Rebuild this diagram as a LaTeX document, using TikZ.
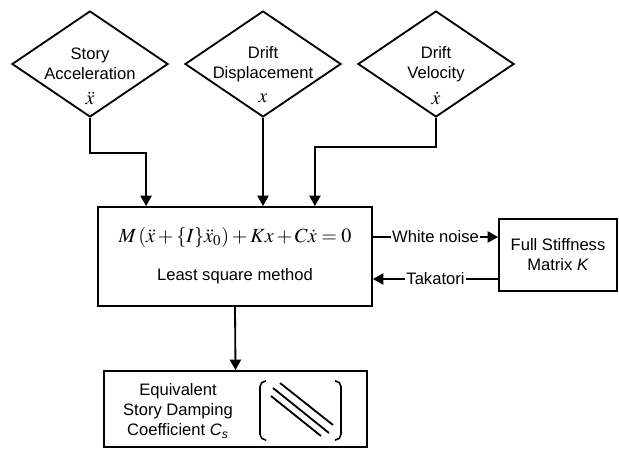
\documentclass[tikz,border=0pt]{standalone}
\usepackage{mathptmx}
\usepackage[no-math]{fontspec}
\setmainfont{Liberation Sans}
\usepackage{tikz}
\usetikzlibrary{
    positioning,
    arrows.meta,
    calc,
    shapes.geometric
}

\begin{document}
\begin{tikzpicture}[scale=1.0, >={Triangle[length=7.5pt,width=8pt]},
        line width=1.3pt,
        every node/.style={font=\fontsize{11.8}{14.2}\selectfont, align=center},
        signal/.style={diamond, draw, minimum width=3.9cm, minimum height=2.65cm, inner sep=0pt},
        block/.style={draw, rectangle, inner sep=0pt}]
        \useasboundingbox (0,0) rectangle (15.475,11.2);

        % Measured responses
        \node[signal] (acc) at (2.25, 9.6) {};
        \node (acct) at (acc.center) {Story\\Acceleration};
        \node (accm) at ([yshift=-0.85cm]acc.center) {\fontsize{14}{16}\selectfont $\ddot{x}$};
        \node[signal] (disp) at (6.575, 9.6) {};
        \node (dispt) at (disp.center) {Drift\\Displacement};
        \node (dispm) at ([yshift=-0.85cm]disp.center) {\fontsize{14}{16}\selectfont $x$};
        \node[signal] (vel) at (10.9, 9.6) {};
        \node (velt) at (vel.center) {Drift\\Velocity};
        \node (velm) at ([yshift=-0.85cm]vel.center) {\fontsize{14}{16}\selectfont $\dot{x}$};

        % Identification
        \node[block, minimum width=6.85cm, minimum height=2.475cm] (lsm) at (5.875, 4.7875) {};
        \node (eqn) at (5.875, 5.275) {\fontsize{14.3}{16}\selectfont $M\,(\ddot{x}+\{I\}\ddot{x}_0)+Kx+C\dot{x}=0$};
        \node (lsmt) at (5.875, 4.3) {Least square method};
        \node[block, minimum width=2.95cm, minimum height=1.8cm] (stiff) at (13.95, 4.825) {Full Stiffness\\Matrix \textit{K}};

        % Result
        \node[block, minimum width=6.575cm, minimum height=1.9cm] (damp) at (5.8875, 0.975) {};
        \node (dampt) at (4.45, 0.925) {Equivalent\\Story Damping\\Coefficient \textit{C}\textsubscript{\textit{s}}};
        \draw[line width=1.1pt, rounded corners=4pt] (6.65,1.675) -- (6.5,1.675) -- (6.5,0.2) -- (6.65,0.2);
        \draw[line width=1.1pt, rounded corners=4pt] (8.375,1.675) -- (8.525,1.675) -- (8.525,0.2) -- (8.375,0.2);
        \draw (7.0,1.625) -- (8.325,0.575);
        \draw (6.825,1.5) -- (8.225,0.375);
        \draw (6.775,1.3) -- (8.025,0.3);

        % Connections
        \draw[->] (acc.south) -- ++(0,-0.875) -| ([xshift=1.225cm]lsm.north west);
        \draw[->] (disp.south) -- (disp.south |- lsm.north);
        \draw[->] (vel.south) -- ++(0,-0.725) -| ([xshift=-1.45cm]lsm.north east);
        \coordinate (wn) at ([yshift=0.4875cm]lsm.east);
        \coordinate (tk) at ([yshift=-0.5625cm]lsm.east);
        \draw[->] (wn) -- node[fill=white, inner sep=1pt] {White noise} (wn -| stiff.west);
        \draw[->] (tk -| stiff.west) -- node[fill=white, inner sep=1pt] {Takatori} (tk);
        \draw[->] (lsm.south) -- (damp.north);
    \end{tikzpicture}
\end{document}
